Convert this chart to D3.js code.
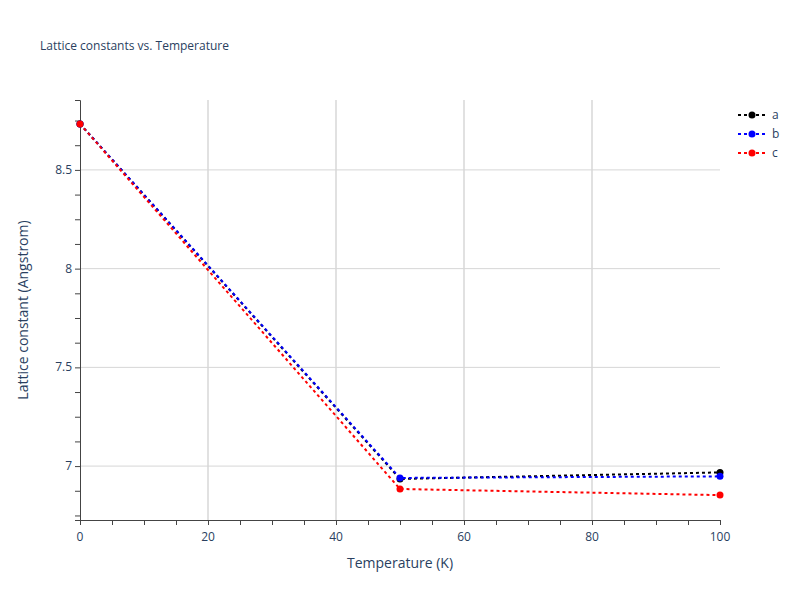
<!DOCTYPE html>
<html><head><meta charset="utf-8">
<script src="https://cdn.jsdelivr.net/npm/d3@7"></script>
<style>body{margin:0;background:#fff}text{font-family:"Open Sans",sans-serif}</style>
</head><body><svg id="chart" width="800" height="600"></svg>
<script>
var temps = [0, 50, 100];
var seriesNames = ["a", "b", "c"];
var seriesColors = ["black", "blue", "red"];
var aValues = [8.733, 6.935, 6.968];
var bValues = [8.733, 6.940, 6.948];
var cValues = [8.733, 6.884, 6.853];
var allValues = [aValues, bValues, cValues];
var xTicks = [0, 20, 40, 60, 80, 100];
var yTicks = [7, 7.5, 8, 8.5];

var svg = d3.select("#chart");
var pLeft = 80, pRight = 720, pTop = 100, pBottom = 520;
var x = d3.scaleLinear().domain([0, 100]).range([pLeft, pRight]);
var y = d3.scaleLinear().domain([6.727, 8.854]).range([pBottom, pTop]);

// grid
svg.selectAll(".gx").data(xTicks.slice(1, -1)).enter().append("line")
  .attr("x1", d => x(d)).attr("x2", d => x(d)).attr("y1", pTop).attr("y2", pBottom)
  .attr("stroke", "#e1e1e1").attr("stroke-width", 2);
svg.selectAll(".gy").data(yTicks).enter().append("line")
  .attr("x1", pLeft).attr("x2", pRight).attr("y1", d => y(d)).attr("y2", d => y(d))
  .attr("stroke", "#d6d6d6");

// axes
var xAxis = svg.append("g").attr("transform", "translate(0," + pBottom + ")")
  .call(d3.axisBottom(x).tickValues(d3.range(0, 101, 5)).tickSize(5).tickFormat(""));
xAxis.selectAll("line").attr("stroke", "#444");
xAxis.select(".domain").attr("stroke", "#444");
svg.selectAll(".xl").data(xTicks).enter().append("text")
  .attr("x", d => x(d)).attr("y", pBottom + 21).attr("text-anchor", "middle")
  .attr("font-size", 12).attr("fill", "#2a3f5f").text(d => d);

var yAxis = svg.append("g").attr("transform", "translate(" + pLeft + ",0)")
  .call(d3.axisLeft(y).tickValues(d3.range(6.75, 8.86, 0.125)).tickSize(5).tickFormat(""));
yAxis.selectAll("line").attr("stroke", "#444");
yAxis.select(".domain").attr("stroke", "#444");
svg.selectAll(".yl").data(yTicks).enter().append("text")
  .attr("x", pLeft - 8).attr("y", d => y(d) + 4).attr("text-anchor", "end")
  .attr("font-size", 12).attr("fill", "#2a3f5f").text(d => d);

// series
var line = d3.line().x((d, i) => x(temps[i])).y(d => y(d));
allValues.forEach(function (vals, k) {
  svg.append("path").datum(vals).attr("d", line).attr("fill", "none")
    .attr("stroke", seriesColors[k]).attr("stroke-width", 2).attr("stroke-dasharray", "3,3");
  svg.selectAll(".p" + k).data(vals).enter().append("circle")
    .attr("cx", (d, i) => x(temps[i])).attr("cy", d => y(d)).attr("r", 3.5)
    .attr("fill", seriesColors[k]);
});

// legend
seriesNames.forEach(function (n, k) {
  var ly = 115 + k * 19;
  svg.append("line").attr("x1", 738).attr("x2", 766).attr("y1", ly).attr("y2", ly)
    .attr("stroke", seriesColors[k]).attr("stroke-width", 2).attr("stroke-dasharray", "3,3");
  svg.append("circle").attr("cx", 752).attr("cy", ly).attr("r", 3.5).attr("fill", seriesColors[k]);
  svg.append("text").attr("x", 772).attr("y", ly + 4).attr("font-size", 12)
    .attr("fill", "#2a3f5f").text(n);
});

// titles
svg.append("text").attr("x", 40).attr("y", 50).attr("font-size", 12).attr("fill", "#2a3f5f")
  .text("Lattice constants vs. Temperature");
svg.append("text").attr("x", (pLeft + pRight) / 2).attr("y", 568).attr("text-anchor", "middle")
  .attr("font-size", 14).attr("fill", "#2a3f5f").text("Temperature (K)");
svg.append("text").attr("transform", "translate(28," + (pTop + pBottom) / 2 + ") rotate(-90)")
  .attr("text-anchor", "middle").attr("font-size", 14).attr("fill", "#2a3f5f")
  .text("Lattice constant (Angstrom)");
</script></body></html>
